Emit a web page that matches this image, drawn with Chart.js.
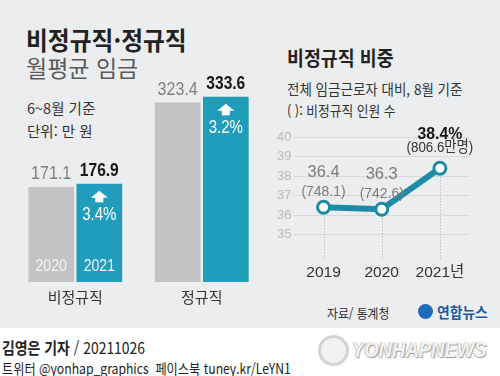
<!DOCTYPE html>
<html lang="ko">
<head>
<meta charset="utf-8">
<script src="https://cdn.jsdelivr.net/npm/chart.js@4.4.0/dist/chart.umd.min.js"></script>
<style>
  body { margin: 0; width: 500px; height: 376px; overflow: hidden; position: relative; background: #fff; font-family: "Noto Sans CJK KR", sans-serif; }
  #painel { position: absolute; left: 0; top: 0; width: 500px; height: 328px; background: #ebedee; }
  .t { position: absolute; white-space: nowrap; line-height: 1; transform-origin: 0 50%; }
  canvas { position: absolute; }
  #barras { left: 0; top: 0; }
  #linha { left: 260px; top: 100px; }
</style>
</head>
<body>
<div id="painel"></div>

<div class="t" style="left:26px;top:27px;font-size:25px;font-weight:700;color:#222;transform:scaleX(0.95)">비정규직·정규직</div>
<div class="t" style="left:26px;top:56px;font-size:23px;color:#5a5a5a;transform:scaleX(1)">월평균 임금</div>
<div class="t" style="left:27px;top:101px;font-size:14.5px;color:#333">6~8월 기준</div>
<div class="t" style="left:27px;top:124px;font-size:14.5px;color:#333">단위: 만 원</div>

<div class="t" style="left:287px;top:48px;font-size:20px;font-weight:700;color:#222;transform:scaleX(0.92)">비정규직 비중</div>
<div class="t" style="left:287px;top:81px;font-size:15px;color:#333;transform:scaleX(0.9)">전체 임금근로자 대비, 8월 기준</div>
<div class="t" style="left:287px;top:103px;font-size:14px;color:#333;transform:scaleX(0.91)">( ): 비정규직 인원 수</div>

<div class="t" style="left:327px;top:306px;font-size:13px;color:#333;transform:scaleX(0.91)">자료/ 통계청</div>
<div style="position:absolute;left:418px;top:304px;width:15px;height:15px;border-radius:50%;background:#1e6bb8"></div>
<div class="t" style="left:437px;top:304px;font-size:15px;font-weight:700;color:#1e5aa0;transform:scaleX(0.92)">연합뉴스</div>

<div class="t" style="left:2px;top:339px;font-size:16px;color:#222;transform:scaleX(0.87)"><b>김영은 기자</b> / 20211026</div>
<div class="t" style="left:2px;top:361px;font-size:14px;color:#222;transform:scaleX(0.87)">트위터 @yonhap_graphics&nbsp; 페이스북 tuney.kr/LeYN1</div>

<div style="position:absolute;left:318px;top:335px;width:25px;height:25px;border-radius:50%;border:3px solid #d4d4d4;background:#f2f2f2"></div>
<div class="t" style="left:352px;top:339px;font-size:22px;font-weight:700;font-style:italic;font-family:'Liberation Sans';color:#f3f3f3;text-shadow:1px 1px 1px #999,-1px 0 1px #bbb;transform:scaleX(0.84)">YONHAPNEWS</div>

<canvas id="barras" width="280" height="330"></canvas>
<canvas id="linha" width="240" height="190"></canvas>

<script>
// dados do grafico de barras (만 원)
var categorias = ["비정규직", "정규직"];
var anosBarras = ["2020", "2021"];
var salario2020 = [171.1, 323.4];
var salario2021 = [176.9, 333.6];
var aumento = ["3.4%", "3.2%"];

// dados do grafico de linha (%)
var anosLinha = ["2019", "2020", "2021년"];
var proporcao = [36.4, 36.3, 38.4];
var pessoas = ["748.1", "742.6", "806.6만명"];
var ticksY = [35, 36, 37, 38, 39, 40];

var azul = "#1f9dba";
var cinza = "#c1c3c5";
var fonteNum = "'Liberation Sans', sans-serif";

// texto um pouco condensado na horizontal
function texto(ctx, s, x, y, sx) {
  ctx.save();
  ctx.translate(x, y);
  ctx.scale(sx, 1);
  ctx.fillText(s, 0, 0);
  ctx.restore();
}

// rotulos das barras: valor em cima, seta e % dentro, ano embaixo
var rotulosBarras = {
  id: "rotulosBarras",
  afterDatasetsDraw: function (chart) {
    var ctx = chart.ctx;
    ctx.save();
    ctx.textAlign = "center";
    ctx.textBaseline = "middle";
    chart.data.datasets.forEach(function (ds, d) {
      chart.getDatasetMeta(d).data.forEach(function (bar, i) {
        ctx.font = (d == 1 ? "bold " : "") + "18.5px " + fonteNum;
        ctx.fillStyle = d == 1 ? "#161616" : "#7d7f81";
        texto(ctx, ds.data[i].toFixed(1), bar.x, bar.y - 13, d == 1 ? 0.84 : 0.87);

        if (d == 1) {
          // seta para cima
          var cy = bar.y + 13;
          ctx.fillStyle = "#fff";
          ctx.beginPath();
          ctx.moveTo(bar.x, cy - 6);
          ctx.lineTo(bar.x + 8.5, cy + 1);
          ctx.lineTo(bar.x - 8.5, cy + 1);
          ctx.closePath();
          ctx.fill();
          ctx.fillRect(bar.x - 4, cy, 8, 5.5);
          ctx.font = "17.5px " + fonteNum;
          texto(ctx, aumento[i], bar.x, bar.y + 31, 0.86);
        }

        if (i == 0) {
          ctx.font = "16px " + fonteNum;
          ctx.fillStyle = "#f2f3f4";
          texto(ctx, ds.label, bar.x, bar.base - 15, 0.88);
        }
      });
    });
    ctx.restore();
  }
};

new Chart(document.getElementById("barras").getContext("2d"), {
  type: "bar",
  data: {
    labels: categorias,
    datasets: [
      { label: anosBarras[0], data: salario2020, backgroundColor: cinza },
      { label: anosBarras[1], data: salario2021, backgroundColor: azul },
    ],
  },
  options: {
    responsive: false,
    animation: false,
    categoryPercentage: 0.761,
    barPercentage: 0.949,
    layout: { padding: { left: 12, right: 15, top: 60, bottom: 18 } },
    plugins: { legend: { display: false }, tooltip: { enabled: false } },
    scales: {
      x: {
        grid: { display: false, drawTicks: false },
        border: { display: false },
        ticks: { color: "#333", padding: 6, font: { size: 15, family: "'Noto Sans CJK KR'" } },
      },
      y: { display: false, min: 0, max: 400 },
    },
  },
  plugins: [rotulosBarras],
});

// linhas pontilhadas e rotulos do grafico de linha
var rotulosLinha = {
  id: "rotulosLinha",
  beforeDatasetsDraw: function (chart) {
    var ctx = chart.ctx;
    var fundo = chart.chartArea.bottom;
    ctx.save();
    ctx.strokeStyle = "#a9abad";
    ctx.lineWidth = 1;
    ctx.setLineDash([1, 2]);
    chart.getDatasetMeta(0).data.forEach(function (p) {
      ctx.beginPath();
      ctx.moveTo(Math.round(p.x) + 0.5, p.y);
      ctx.lineTo(Math.round(p.x) + 0.5, fundo);
      ctx.stroke();
    });
    ctx.restore();
  },
  afterDatasetsDraw: function (chart) {
    var ctx = chart.ctx;
    var n = proporcao.length;
    ctx.save();
    ctx.textAlign = "center";
    ctx.textBaseline = "middle";
    chart.getDatasetMeta(0).data.forEach(function (p, i) {
      var ultimo = i == n - 1;
      ctx.font = (ultimo ? "bold " : "") + "17px " + fonteNum;
      ctx.fillStyle = ultimo ? "#161616" : "#7a7c7e";
      texto(ctx, proporcao[i].toFixed(1) + (ultimo ? "%" : ""), p.x, p.y - (ultimo ? 34 : 35), ultimo ? 0.93 : 0.97);
      ctx.font = "15.5px " + fonteNum + ", 'Noto Sans CJK KR'";
      ctx.fillStyle = ultimo ? "#333" : "#7a7c7e";
      texto(ctx, "(" + pessoas[i] + ")", p.x, p.y - (ultimo ? 21 : 16), ultimo ? 0.86 : 0.9);
    });
    ctx.restore();
  }
};

new Chart(document.getElementById("linha").getContext("2d"), {
  type: "line",
  data: {
    labels: anosLinha,
    datasets: [
      {
        data: proporcao,
        borderColor: "#1b8ba7",
        borderWidth: 6,
        pointRadius: 6,
        pointBackgroundColor: "#fff",
        pointBorderColor: "#1b8ba7",
        pointBorderWidth: 3,
        tension: 0,
      },
    ],
  },
  options: {
    responsive: false,
    animation: false,
    layout: { padding: { left: 14, right: 31, top: 37, bottom: 4 } },
    plugins: { legend: { display: false }, tooltip: { enabled: false } },
    scales: {
      x: {
        offset: true,
        grid: { display: false, drawTicks: false },
        border: { display: false },
        ticks: { color: "#333", padding: 4, maxRotation: 0, minRotation: 0, autoSkip: false, font: { size: 15.5, family: fonteNum + ", 'Noto Sans CJK KR'" } },
      },
      y: {
        min: 33.73,
        max: 40,
        afterBuildTicks: function (scale) {
          scale.ticks = ticksY.map(function (v) { return { value: v }; });
        },
        grid: { color: "#d6d8da", drawTicks: false },
        border: { display: false },
        ticks: { color: "#b7b9bb", padding: 3, font: { size: 13, family: "'Liberation Sans'" } },
      },
    },
  },
  plugins: [rotulosLinha],
});
</script>
</body>
</html>
